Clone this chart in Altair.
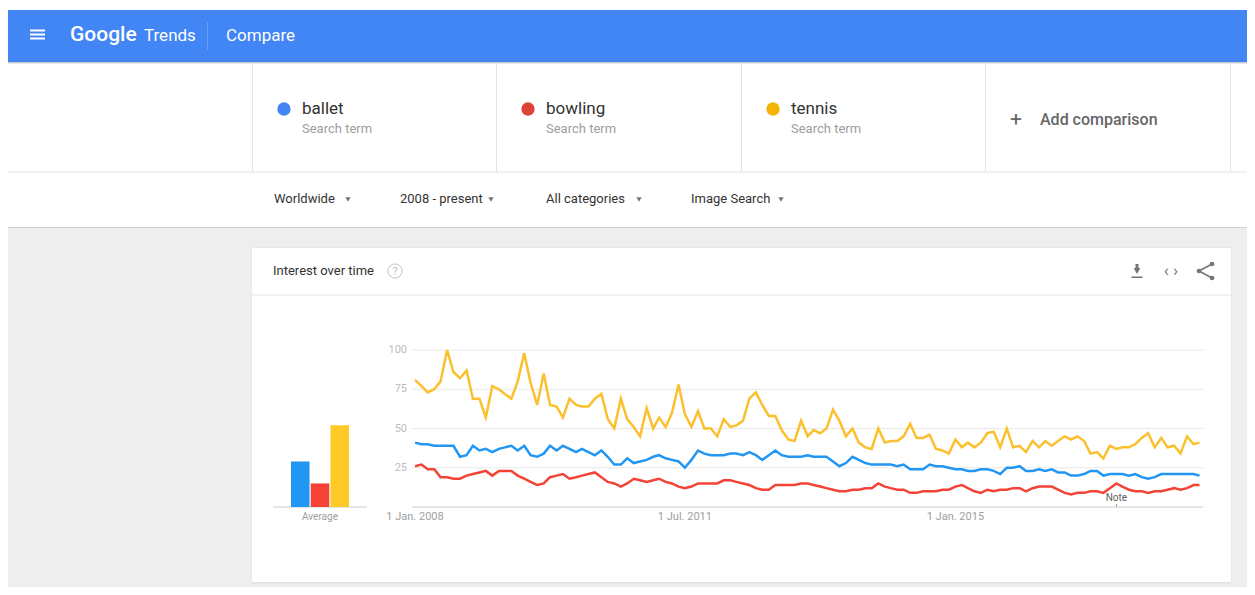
import altair as alt
import pandas as pd

# ---------------- data ----------------
terms = ["ballet", "bowling", "tennis"]
first_month = "2008-01-01"

ballet = [41, 40, 40, 39, 39, 39, 39, 32, 33, 39, 36, 37, 35, 37, 38, 39, 36, 39, 33, 32,
          34, 39, 36, 39, 37, 35, 37, 35, 33, 36, 32, 27, 27, 31, 28, 29, 30, 32, 33,
          31, 30, 29, 25, 30, 36, 34, 33, 33, 33, 34, 34, 33, 35, 33, 30, 33, 36, 33, 32,
          32, 32, 33, 32, 32, 32, 29, 26, 28, 32, 30, 28, 27, 27, 27, 27, 26, 27, 24, 24,
          24, 27, 26, 26, 25, 24, 24, 23, 23, 24, 24, 23, 21, 25, 25, 26, 23, 23, 24, 23,
          24, 22, 22, 20, 20, 21, 23, 23, 20, 21, 21, 21, 20, 21, 19, 18, 19, 21, 21, 21,
          21, 21, 21, 20]
bowling = [26, 27, 24, 24, 19, 19, 18, 18, 20, 21, 22, 23, 20, 23, 23, 23, 20, 18, 16, 14,
           15, 19, 20, 21, 18, 19, 20, 21, 22, 19, 16, 15, 13, 15, 18, 17, 16, 17, 18,
           16, 15, 13, 12, 13, 15, 15, 15, 15, 17, 17, 16, 15, 14, 12, 11, 11, 14, 14, 14,
           14, 15, 15, 14, 13, 12, 11, 10, 10, 11, 11, 12, 12, 15, 13, 12, 11, 11, 9, 9,
           10, 10, 10, 11, 11, 13, 14, 12, 10, 9, 11, 10, 11, 11, 12, 12, 10, 12, 13, 13,
           13, 11, 9, 8, 9, 9, 10, 10, 9, 12, 15, 13, 11, 10, 10, 9, 10, 10, 11, 12,
           11, 12, 14, 14]
tennis = [81, 77, 73, 75, 80, 100, 86, 82, 87, 69, 69, 57, 77, 75, 72, 69, 80, 98, 79, 65,
          85, 65, 64, 57, 69, 65, 64, 64, 69, 72, 56, 50, 69, 56, 51, 45, 63, 50, 57,
          51, 60, 78, 59, 51, 61, 50, 50, 45, 56, 51, 52, 55, 69, 73, 65, 58, 58, 49, 43,
          42, 55, 45, 49, 47, 50, 62, 55, 45, 50, 41, 38, 37, 50, 41, 42, 42, 45, 53, 44,
          44, 46, 37, 36, 34, 43, 38, 41, 38, 41, 47, 48, 38, 50, 38, 39, 35, 42, 38, 42,
          39, 42, 45, 43, 45, 42, 34, 35, 31, 39, 37, 38, 38, 40, 44, 47, 38, 44, 38, 39,
          34, 45, 40, 41]
average = [29, 15, 52]

y_ticks = [25, 50, 75, 100]
x_tick_dates = ["2008-01-01", "2011-07-01", "2015-01-01"]
x_tick_labels = ["1 Jan. 2008", "1 Jul. 2011", "1 Jan. 2015"]
note_dates = ["2017-02-01"]
note_labels = ["Note"]

line_colors = ["#2196f3", "#f44336", "#fbc02d"]
bar_colors = ["#2196f3", "#f44336", "#ffca28"]
dot_colors = ["#4285f4", "#db4437", "#f4b400"]

# ---------------- tables ----------------
months = pd.date_range(first_month, periods=len(ballet), freq="MS")
series = pd.DataFrame({
    "date": list(months) * 3,
    "term": [t for t in terms for _ in range(len(months))],
    "value": ballet + bowling + tennis,
})
avg_df = pd.DataFrame({"term": terms, "avg": average})
grid_df = pd.DataFrame({"v": y_ticks})
base_df = pd.DataFrame({"v": [0]})
xlab_df = pd.DataFrame({"d": pd.to_datetime(x_tick_dates), "label": x_tick_labels})
note_df = pd.DataFrame({"d": pd.to_datetime(note_dates), "label": note_labels})
one = pd.DataFrame({"k": [0]})

FONT = "Roboto"

def dt(ts):
    return alt.DateTime(year=ts.year, month=ts.month, date=ts.day)

xs = alt.Scale(domain=[dt(months[0]), dt(months[-1])], range=[407, 1191.5], nice=False)
ys = alt.Scale(domain=[0, 100], range=[499, 342], nice=False, zero=False)

# ---------------- UI helpers ----------------
def rect(x1, y1, x2, y2, color):
    return alt.Chart(one).mark_rect(color=color, strokeWidth=0).encode(
        x=alt.value(x1), x2=alt.value(x2), y=alt.value(y1), y2=alt.value(y2))

def rule(x1, y1, x2, y2, color, w=1.0):
    return alt.Chart(one).mark_rule(color=color, strokeWidth=w).encode(
        x=alt.value(x1), x2=alt.value(x2), y=alt.value(y1), y2=alt.value(y2))

def text(x, y, s, size, color, align="left", weight="normal"):
    return alt.Chart(one).mark_text(
        text=s, align=align, baseline="middle", fontSize=size, color=color,
        fontWeight=weight, font=FONT).encode(x=alt.value(x), y=alt.value(y))

def symbol(x, y, size, color, shape="circle", filled=True, sw=1.0):
    if filled:
        m = alt.Chart(one).mark_point(shape=shape, size=size, filled=True, color=color,
                                      opacity=1, strokeWidth=0)
    else:
        m = alt.Chart(one).mark_point(shape=shape, size=size, filled=False, color=color,
                                      opacity=1, strokeWidth=sw)
    return m.encode(x=alt.value(x), y=alt.value(y))

layers = []
# page regions
layers += [
    rect(0, 2, 1239, 54, "#4285f4"),            # app bar
    rect(0, 54, 1239, 55, "#c9c9c9"),
    rect(0, 55, 1239, 56, "#e6e6e6"),
    rect(0, 163.5, 1239, 164.5, "#e3e3e3"),
    rect(0, 219, 1239, 220, "#d2d2d2"),
    rect(0, 220, 1239, 579, "#eeeeee"),         # grey page
    rect(243.5, 239.5, 1223.5, 575.5, "#e2e2e2"),  # card shadow
    rect(244, 240, 1223, 574, "#ffffff"),       # card
    rect(244, 286.5, 1223, 287.5, "#e6e6e6"),   # card header line
]
# term separators
for sx in [244.5, 488.5, 733.5, 977.5, 1222.5]:
    layers.append(rule(sx, 56, sx, 163.5, "#e3e3e3"))

# app bar content
for hy in [22.5, 26.5, 30.5]:
    layers.append(rect(22, hy - 1, 37, hy + 1, "#ffffff"))
layers += [
    text(62, 27, "Google", 21, "#ffffff", weight=500),
    text(136, 27.5, "Trends", 17, "#ffffff"),
    rule(199.5, 14, 199.5, 42, "#6a9cf6"),
    text(218, 27.5, "Compare", 17, "#ffffff"),
]

# search terms
term_x = [276, 520, 765]
for tx, tname, tcol in zip(term_x, terms, dot_colors):
    layers += [
        symbol(tx, 101, 177, tcol),
        text(tx + 18, 101, tname, 17, "#333333"),
        text(tx + 18, 121, "Search term", 13, "#9e9e9e"),
    ]
layers += [
    text(1008, 112, "+", 21, "#666666", align="center"),
    text(1032, 112, "Add comparison", 16, "#666666", weight=500),
]

# filter row
filters = [("Worldwide", 266, 340), ("2008 - present", 392, 483),
           ("All categories", 538, 631), ("Image Search", 683, 773)]
for lab, fx, ax in filters:
    layers += [
        text(fx, 191, lab, 13, "#333333"),
        symbol(ax, 191.5, 28, "#757575", shape="triangle-down"),
    ]

# card header
layers += [
    text(265, 263, "Interest over time", 13, "#333333"),
    symbol(387, 263, 200, "#c2c2c2", filled=False, sw=1),
    text(387, 263.5, "?", 11, "#bdbdbd", align="center"),
    # download icon
    rect(1127.5, 256, 1130.5, 261, "#757575"),
    symbol(1129, 263, 45, "#757575", shape="triangle-down"),
    rect(1123.5, 268.5, 1134.5, 270, "#757575"),
    # embed icon
    text(1163, 263, "\u2039 \u203a", 17, "#757575", align="center"),
    # share icon
    rule(1191, 263, 1204, 256, "#757575", 1.5),
    rule(1191, 263, 1204, 270, "#757575", 1.5),
    symbol(1204, 256, 22, "#757575"),
    symbol(1191, 263, 22, "#757575"),
    symbol(1204, 270, 22, "#757575"),
]

# ---------------- chart layers (data) ----------------
grid = alt.Chart(grid_df).mark_rule(color="#e8e8e8", strokeWidth=1).encode(
    y=alt.Y("v:Q", scale=ys, axis=None), x=alt.value(404), x2=alt.value(1195))
baseline = alt.Chart(base_df).mark_rule(color="#cccccc", strokeWidth=1).encode(
    y=alt.Y("v:Q", scale=ys, axis=None), x=alt.value(404), x2=alt.value(1195))
bar_base = alt.Chart(base_df).mark_rule(color="#cccccc", strokeWidth=1).encode(
    y=alt.Y("v:Q", scale=ys, axis=None), x=alt.value(265), x2=alt.value(359))
ylabels = alt.Chart(grid_df).mark_text(
    align="right", baseline="middle", fontSize=11, color="#bdbdbd", font=FONT).encode(
    y=alt.Y("v:Q", scale=ys, axis=None), x=alt.value(399), text="v:Q")
xlabels = alt.Chart(xlab_df).mark_text(
    align="center", baseline="middle", fontSize=11, color="#9e9e9e", font=FONT).encode(
    x=alt.X("d:T", scale=xs, axis=None), y=alt.value(508.5), text="label:N")
note_tick = alt.Chart(note_df).mark_rule(color="#9e9e9e", strokeWidth=1).encode(
    x=alt.X("d:T", scale=xs, axis=None), y=alt.value(496), y2=alt.value(499))
note_text = alt.Chart(note_df).mark_text(
    align="center", baseline="middle", fontSize=10, color="#616161", font=FONT).encode(
    x=alt.X("d:T", scale=xs, axis=None), y=alt.value(490), text="label:N")

lines = alt.Chart(series).mark_line(strokeWidth=2.5).encode(
    x=alt.X("date:T", scale=xs, axis=None),
    y=alt.Y("value:Q", scale=ys, axis=None),
    color=alt.Color("term:N", scale=alt.Scale(domain=terms, range=line_colors), legend=None),
)

bars = alt.Chart(avg_df).mark_bar().encode(
    x=alt.X("term:N", sort=terms,
            scale=alt.Scale(domain=terms, range=[283, 341], paddingInner=0.06, paddingOuter=0),
            axis=None),
    y=alt.Y("avg:Q", scale=ys, axis=None),
    color=alt.Color("term:N", scale=alt.Scale(domain=terms, range=bar_colors), legend=None),
)
avg_label = text(312, 509, "Average", 10, "#9e9e9e", align="center")

layers += [grid, baseline, bar_base, ylabels, xlabels, note_tick, note_text, lines, bars, avg_label]

chart = alt.layer(*layers).resolve_scale(
    x="independent", y="independent", color="independent"
).properties(
    width=1239, height=579, padding=0,
    autosize=alt.AutoSizeParams(type="none"),
    background="#ffffff",
).configure_view(strokeWidth=0)

chart.save("out.html", embed_options={"renderer": "svg", "actions": False})
